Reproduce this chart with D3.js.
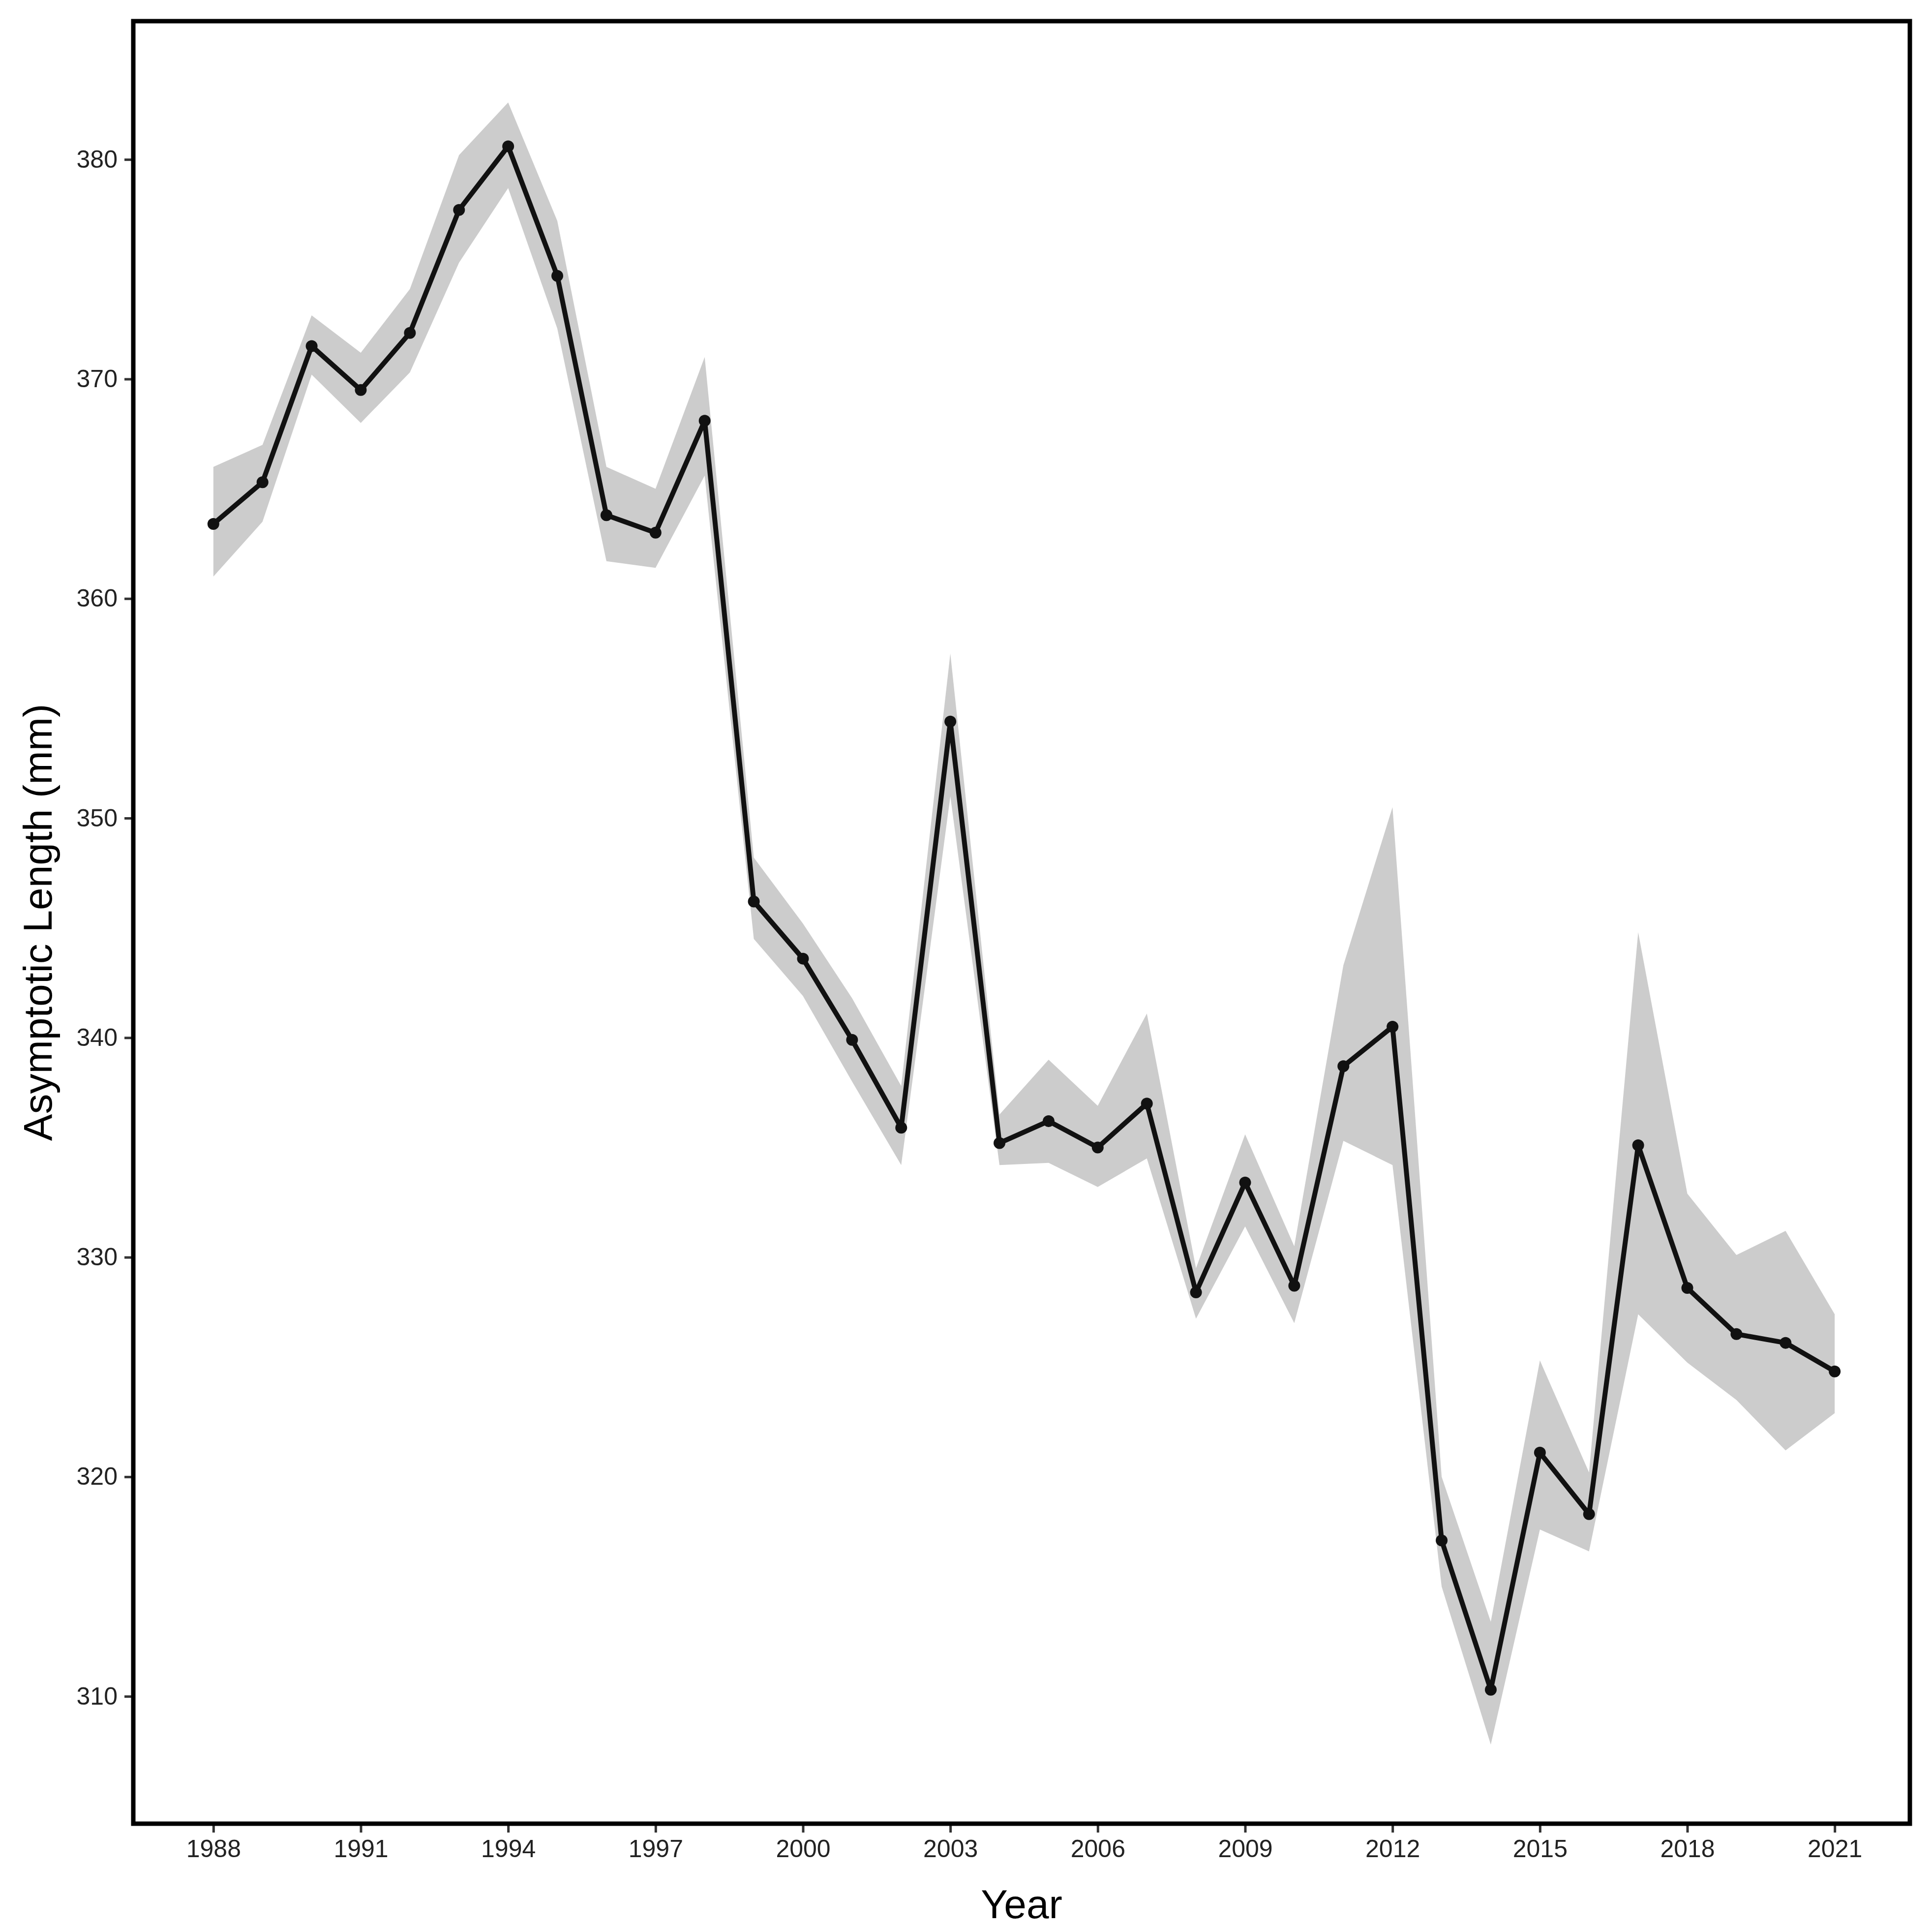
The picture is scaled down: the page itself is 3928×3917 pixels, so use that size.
<!DOCTYPE html>
<html><head><meta charset="utf-8">
<script src="https://cdn.jsdelivr.net/npm/d3@7"></script>
<style>body{margin:0;background:#fff}</style>
</head><body>
<script>
var years = d3.range(1988, 2022);
var values = [363.4,365.3,371.5,369.5,372.1,377.7,380.6,374.7,363.8,363.0,368.1,346.2,343.6,339.9,335.9,354.4,335.2,336.2,335.0,337.0,328.4,333.4,328.7,338.7,340.5,317.1,310.3,321.1,318.3,335.1,328.6,326.5,326.1,324.8];
var lower = [361.0,363.5,370.2,368.0,370.3,375.3,378.7,372.3,361.7,361.4,365.6,344.5,341.9,338.0,334.2,351.0,334.2,334.3,333.2,334.5,327.2,331.4,327.0,335.3,334.2,315.0,307.8,317.6,316.6,327.4,325.2,323.5,321.2,322.9];
var upper = [366.0,367.0,372.9,371.2,374.1,380.2,382.6,377.2,366.0,365.0,371.0,348.2,345.2,341.8,337.8,357.5,336.5,339.0,336.9,341.1,329.5,335.6,330.5,343.3,350.5,320.0,313.4,325.3,320.2,344.8,332.9,330.1,331.2,327.4];
var xTicks = d3.range(1988, 2022, 3);
var yTicks = [310, 320, 330, 340, 350, 360, 370, 380];

var W = 3928, H = 3917;
var margin = {top: 43, right: 45, bottom: 210, left: 271},
	width = W - margin.left - margin.right,
	height = H - margin.top - margin.bottom;

var svg = d3.select("body").append("svg")
	.attr("width", W).attr("height", H)
	.style("font-family", "Arial, 'Liberation Sans', sans-serif");
var g = svg.append("g").attr("transform", "translate(" + margin.left + "," + margin.top + ")");

var x = d3.scaleLinear().domain([1986.37, 2022.53]).range([0, width]);
var y = d3.scaleLinear().domain([304.2, 386.3]).range([height, 0]);

var data = years.map(function(d, i) { return {year: d, v: values[i], lo: lower[i], hi: upper[i]}; });

// ribbon
g.append("path").datum(data)
	.attr("fill", "#cccccc")
	.attr("d", d3.area().x(function(d) { return x(d.year); })
		.y0(function(d) { return y(d.lo); }).y1(function(d) { return y(d.hi); }));

g.append("path").datum(data)
	.attr("fill", "none").attr("stroke", "#111").attr("stroke-width", 10)
	.attr("stroke-linejoin", "round")
	.attr("d", d3.line().x(function(d) { return x(d.year); }).y(function(d) { return y(d.v); }));

g.selectAll("circle").data(data).enter().append("circle")
	.attr("cx", function(d) { return x(d.year); })
	.attr("cy", function(d) { return y(d.v); })
	.attr("r", 12).attr("fill", "#111");

// AXIS
var xa = g.append("g").attr("transform", "translate(0," + height + ")")
	.call(d3.axisBottom(x).tickValues(xTicks).tickFormat(d3.format("d")).tickSize(18).tickPadding(14));
var ya = g.append("g")
	.call(d3.axisLeft(y).tickValues(yTicks).tickSize(18).tickPadding(14));
[xa, ya].forEach(function(a) {
	a.select(".domain").remove();
	a.selectAll("line").attr("stroke", "#333").attr("stroke-width", 5);
	a.selectAll("text").style("font-size", "50px").attr("fill", "#222");
});

// frame
g.append("rect").attr("width", width).attr("height", height)
	.attr("fill", "none").attr("stroke", "#000").attr("stroke-width", 9);

// AXIS LABEL
svg.append("text")
	.attr("x", margin.left + width / 2).attr("y", H - 18)
	.attr("text-anchor", "middle").style("font-size", "82px")
	.text("Year");
svg.append("text")
	.attr("transform", "translate(105," + (margin.top + height / 2) + ") rotate(-90)")
	.attr("text-anchor", "middle").style("font-size", "82px")
	.text("Asymptotic Length (mm)");
</script>
</body></html>
